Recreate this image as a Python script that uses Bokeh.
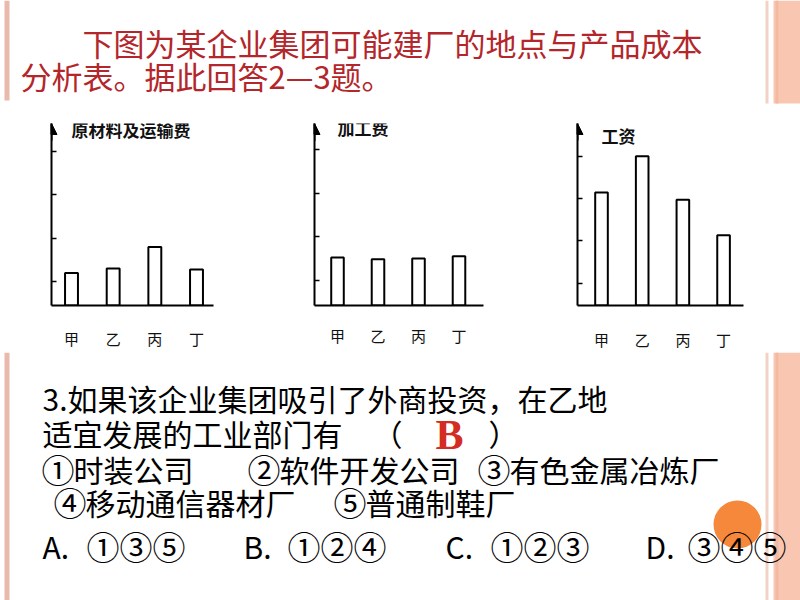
from bokeh.plotting import figure
from bokeh.models import Range1d, FixedTicker, Label, Arrow, NormalHead, CustomJSTickFormatter
from bokeh.layouts import column, row
from bokeh.core.properties import value
from bokeh.embed import file_html
from bokeh.resources import INLINE

CJK = "Noto Sans CJK SC"

# ---------------- data ----------------
categories = ["甲", "乙", "丙", "丁"]
positions = [1, 2, 3, 4]
raw_material_transport = [1.20, 1.30, 1.80, 1.28]
processing_cost = [1.52, 1.48, 1.50, 1.55]
wages = [3.14, 4.00, 2.97, 2.13]
chart_titles = ["原材料及运输费", "加工费", "工资"]
y_ticks = [1, 2, 3, 4]

intro_lines = ["下图为某企业集团可能建厂的地点与产品成本", "分析表。据此回答2—3题。"]
question_lines = ["3.如果该企业集团吸引了外商投资，在乙地", "适宜发展的工业部门有"]
choice_marks = ["①", "②", "③", "④", "⑤"]
choice_names = ["时装公司", "软件开发公司", "有色金属冶炼厂", "移动通信器材厂", "普通制鞋厂"]
option_letters = ["A.", "B.", "C.", "D."]
option_sets = ["①③⑤", "①②④", "①②③", "③④⑤"]
answer = "B"


def deco_figure(y_top, y_bottom):
    p = figure(width=800, height=y_bottom - y_top,
               x_range=Range1d(0, 800), y_range=Range1d(y_bottom, y_top),
               x_axis_location=None, y_axis_location=None,
               output_backend="svg", toolbar_location=None,
               min_border=0, outline_line_color=None,
               background_fill_color="white", border_fill_color="white")
    p.xgrid.visible = False
    p.ygrid.visible = False
    return p


def stripes(p, y0, y1, y1_right):
    p.quad(left=[4], right=[9], top=[y0], bottom=[y1], fill_color="#eab9ad", line_color=None)
    p.quad(left=[765], right=[768], top=[y0], bottom=[y1_right], fill_color="#f3d2c6", line_color=None)
    p.quad(left=[773], right=[800], top=[y0], bottom=[y1_right], fill_color="#f9c6b1", line_color=None)
    p.quad(left=[775], right=[778], top=[y0], bottom=[y1_right], fill_color="#f3b9a2", line_color=None)


# ---------------- top text block ----------------
top = deco_figure(0, 106)
stripes(top, 0, 100, 103)
top.text(x=[82, 20], y=[42, 75], text=intro_lines,
         text_font=value(CJK), text_font_size="31px", text_color="#b3262b",
         text_baseline="middle", text_align="left")


# ---------------- charts ----------------
def make_chart(vals, title, w, bl, br, bt, bb, xr, yr, standoff):
    p = figure(width=w, height=246, x_range=Range1d(*xr), y_range=Range1d(*yr),
               min_border_left=bl, min_border_right=br,
               min_border_top=bt, min_border_bottom=bb,
               output_backend="svg", toolbar_location=None,
               outline_line_color=None,
               background_fill_color="white", border_fill_color="white")
    p.xgrid.visible = False
    p.ygrid.visible = False
    p.vbar(x=positions, top=vals, bottom=0, width=0.31,
           fill_color="white", line_color="black", line_width=2)

    xa = p.xaxis[0]
    xa.ticker = FixedTicker(ticks=positions, minor_ticks=[])
    xa.major_label_overrides = {pos: c for pos, c in zip(positions, categories)}
    xa.major_tick_line_color = None
    xa.minor_tick_line_color = None
    xa.axis_line_width = 2
    xa.axis_line_color = "black"
    xa.major_label_standoff = standoff
    xa.major_label_text_font = CJK
    xa.major_label_text_font_size = "15px"
    xa.major_label_text_color = "#111111"

    ya = p.yaxis[0]
    ya.ticker = FixedTicker(ticks=y_ticks, minor_ticks=[])
    ya.formatter = CustomJSTickFormatter(code="return ''")
    ya.major_tick_in = 5
    ya.major_tick_out = 0
    ya.major_tick_line_width = 1.5
    ya.major_tick_line_color = "black"
    ya.minor_tick_line_color = None
    ya.axis_line_width = 2
    ya.axis_line_color = "black"
    ya.major_label_standoff = 0

    p.add_layout(Arrow(end=NormalHead(size=11, fill_color="black", line_color="black", line_width=1),
                       x_start=xr[0], y_start=yr[1] - 0.4, x_end=xr[0], y_end=yr[1],
                       line_color="black", line_width=2))
    p.add_layout(Label(x=1.0, y=4.5, text=title, text_font=CJK, text_font_size="17px",
                       text_font_style="bold",
                       text_color="#111111", text_baseline="middle", text_align="left"))
    return p


c1 = make_chart(raw_material_transport, chart_titles[0], 266, 51, 53, 12, 44,
                (0.52, 4.408), (0.45, 4.644), 16)
c2 = make_chart(processing_cost, chart_titles[1], 267, 48, 50, 17, 41,
                (0.432, 4.605), (0.42, 4.598), 13)
c3 = make_chart(wages, chart_titles[2], 267, 44, 57, 12, 39,
                (0.41, 4.49), (0.47, 4.775), 17)

# ---------------- bottom text block ----------------
bot = deco_figure(352, 600)
stripes(bot, 352, 600, 600)
bot.circle(x=[737], y=[524], radius=24, fill_color="#f5883b", line_color=None)

bot.text(x=[42, 42], y=[397, 432], text=question_lines,
         text_font=value(CJK), text_font_size="30px", text_color="black",
         text_baseline="middle", text_align="left")
bot.text(x=[372, 488], y=[432, 432], text=["（", "）"],
         text_font=value(CJK), text_font_size="30px", text_color="black",
         text_baseline="middle", text_align="left")
bot.text(x=[449], y=[434], text=[answer],
         text_font=value("Liberation Serif"), text_font_style="bold",
         text_font_size="42px", text_color="#d42b22",
         text_baseline="middle", text_align="center")
bot.text(x=[41, 247, 477, 53, 333], y=[468, 468, 468, 501, 501], text=choice_marks,
         text_font=value(CJK), text_font_size="33px", text_color="black",
         text_baseline="middle", text_align="left")
bot.text(x=[73, 279, 509, 85, 365], y=[468, 468, 468, 501, 501], text=choice_names,
         text_font=value(CJK), text_font_size="30px", text_color="black",
         text_baseline="middle", text_align="left")
bot.text(x=[42, 243, 445, 645], y=[545] * 4, text=option_letters,
         text_font=value(CJK), text_font_size="30px", text_color="black",
         text_baseline="middle", text_align="left")
bot.text(x=[86, 287, 490, 687], y=[545] * 4, text=option_sets,
         text_font=value(CJK), text_font_size="33px", text_color="black",
         text_baseline="middle", text_align="left")

layout = column(top, row(c1, c2, c3, spacing=0), bot, spacing=0)

open("out.html", "w").write(file_html(layout, INLINE))
